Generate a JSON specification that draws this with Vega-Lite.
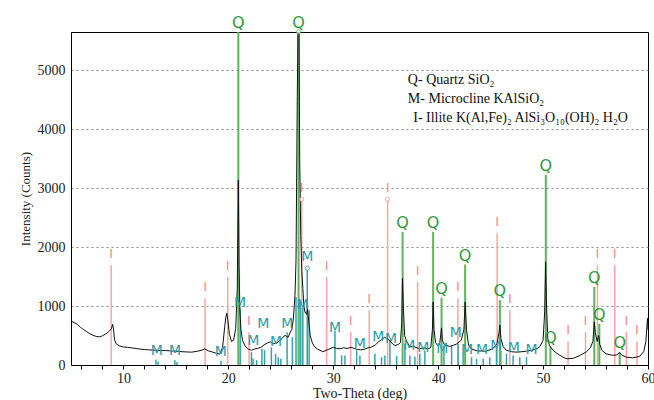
{
  "$schema": "https://vega.github.io/schema/vega-lite/v6.json",
  "width": 577,
  "height": 333,
  "autosize": {"type": "none"},
  "padding": {"left": 71, "top": 32, "right": 6, "bottom": 35},
  "background": "white",
  "config": {
    "view": {"stroke": "#000", "strokeWidth": 1},
    "axis": {"labelFont": "Liberation Serif", "titleFont": "Liberation Serif", "labelColor": "#222", "titleColor": "#222", "domainColor": "#000", "tickColor": "#000"}
  },
  "datasets": {
    "curve": [
      {"t":5.0,"h":745},{"t":5.3,"h":720},{"t":5.6,"h":690},{"t":5.9,"h":640},{"t":6.2,"h":600},{"t":6.5,"h":565},{"t":6.8,"h":530},{"t":7.1,"h":505},{"t":7.4,"h":485},{"t":7.7,"h":478},{"t":8.0,"h":495},{"t":8.3,"h":525},{"t":8.6,"h":565},{"t":8.85,"h":615},{"t":8.97,"h":690},{"t":9.05,"h":610},{"t":9.15,"h":430},{"t":9.3,"h":360},{"t":9.6,"h":325},{"t":10.0,"h":305},{"t":10.4,"h":300},{"t":10.8,"h":290},{"t":11.2,"h":280},{"t":11.6,"h":270},{"t":12.0,"h":262},{"t":12.4,"h":258},{"t":12.8,"h":252},{"t":13.2,"h":250},{"t":13.6,"h":246},{"t":14.0,"h":245},{"t":14.4,"h":240},{"t":14.8,"h":236},{"t":15.2,"h":232},{"t":15.6,"h":226},{"t":16.0,"h":222},{"t":16.5,"h":218},{"t":17.0,"h":232},{"t":17.4,"h":248},{"t":17.75,"h":272},{"t":18.1,"h":240},{"t":18.5,"h":218},{"t":18.9,"h":196},{"t":19.2,"h":185},{"t":19.45,"h":300},{"t":19.6,"h":560},{"t":19.75,"h":800},{"t":19.85,"h":880},{"t":19.95,"h":760},{"t":20.1,"h":520},{"t":20.3,"h":400},{"t":20.5,"h":420},{"t":20.7,"h":620},{"t":20.85,"h":1300},{"t":20.95,"h":3140},{"t":21.02,"h":1700},{"t":21.1,"h":900},{"t":21.2,"h":600},{"t":21.35,"h":420},{"t":21.6,"h":320},{"t":21.9,"h":270},{"t":22.2,"h":250},{"t":22.5,"h":272},{"t":22.8,"h":282},{"t":23.1,"h":300},{"t":23.4,"h":340},{"t":23.7,"h":372},{"t":24.0,"h":392},{"t":24.3,"h":360},{"t":24.6,"h":372},{"t":24.9,"h":410},{"t":25.2,"h":470},{"t":25.4,"h":502},{"t":25.7,"h":470},{"t":25.9,"h":560},{"t":26.05,"h":600},{"t":26.2,"h":790},{"t":26.35,"h":1180},{"t":26.45,"h":1780},{"t":26.57,"h":4550},{"t":26.65,"h":5900},{"t":26.73,"h":5900},{"t":26.8,"h":3500},{"t":26.9,"h":2200},{"t":27.0,"h":1600},{"t":27.1,"h":1300},{"t":27.2,"h":1000},{"t":27.3,"h":900},{"t":27.45,"h":860},{"t":27.55,"h":950},{"t":27.65,"h":750},{"t":27.8,"h":500},{"t":28.0,"h":380},{"t":28.2,"h":310},{"t":28.5,"h":270},{"t":29.0,"h":225},{"t":29.5,"h":262},{"t":30.0,"h":300},{"t":30.3,"h":282},{"t":30.6,"h":275},{"t":31.0,"h":292},{"t":31.3,"h":280},{"t":31.7,"h":300},{"t":32.0,"h":282},{"t":32.3,"h":262},{"t":32.6,"h":258},{"t":33.0,"h":270},{"t":33.3,"h":290},{"t":33.6,"h":302},{"t":34.0,"h":340},{"t":34.3,"h":390},{"t":34.6,"h":432},{"t":34.9,"h":470},{"t":35.2,"h":440},{"t":35.4,"h":410},{"t":35.7,"h":350},{"t":35.9,"h":330},{"t":36.2,"h":350},{"t":36.4,"h":380},{"t":36.52,"h":700},{"t":36.6,"h":1470},{"t":36.7,"h":900},{"t":36.8,"h":500},{"t":37.0,"h":400},{"t":37.3,"h":310},{"t":37.7,"h":312},{"t":38.2,"h":275},{"t":38.7,"h":292},{"t":39.0,"h":270},{"t":39.3,"h":300},{"t":39.45,"h":600},{"t":39.52,"h":1070},{"t":39.6,"h":600},{"t":39.75,"h":380},{"t":39.95,"h":330},{"t":40.15,"h":380},{"t":40.25,"h":520},{"t":40.32,"h":630},{"t":40.4,"h":420},{"t":40.6,"h":340},{"t":41.1,"h":315},{"t":41.7,"h":350},{"t":42.2,"h":420},{"t":42.45,"h":600},{"t":42.57,"h":1070},{"t":42.7,"h":600},{"t":42.9,"h":330},{"t":43.2,"h":270},{"t":43.7,"h":240},{"t":44.2,"h":235},{"t":44.6,"h":236},{"t":45.2,"h":275},{"t":45.6,"h":360},{"t":45.8,"h":550},{"t":45.88,"h":680},{"t":45.98,"h":450},{"t":46.2,"h":310},{"t":46.5,"h":250},{"t":47.0,"h":225},{"t":47.5,"h":218},{"t":48.0,"h":226},{"t":48.4,"h":235},{"t":48.9,"h":250},{"t":49.4,"h":275},{"t":49.7,"h":315},{"t":50.0,"h":420},{"t":50.15,"h":900},{"t":50.24,"h":1750},{"t":50.33,"h":1000},{"t":50.45,"h":450},{"t":50.6,"h":330},{"t":50.95,"h":250},{"t":51.3,"h":200},{"t":51.6,"h":165},{"t":52.0,"h":122},{"t":52.3,"h":105},{"t":52.9,"h":115},{"t":53.5,"h":160},{"t":54.1,"h":220},{"t":54.5,"h":290},{"t":54.75,"h":400},{"t":54.88,"h":730},{"t":54.98,"h":550},{"t":55.15,"h":400},{"t":55.3,"h":500},{"t":55.4,"h":350},{"t":55.6,"h":250},{"t":56.0,"h":190},{"t":56.6,"h":165},{"t":57.0,"h":170},{"t":57.3,"h":210},{"t":57.5,"h":170},{"t":57.9,"h":135},{"t":58.5,"h":122},{"t":59.2,"h":145},{"t":59.6,"h":230},{"t":59.8,"h":400},{"t":59.95,"h":790},{"t":60.0,"h":600}
    ],
    "illite": [
      {"t":8.83,"h":1692},{"t":17.78,"h":1130},{"t":19.94,"h":1493},{"t":21.97,"h":557},{"t":26.99,"h":2810},{"t":29.37,"h":1493},{"t":31.66,"h":557},{"t":33.43,"h":927},{"t":35.18,"h":2810},{"t":38.04,"h":1408},{"t":41.88,"h":1130},{"t":45.62,"h":2235},{"t":46.83,"h":927},{"t":52.38,"h":400},{"t":54.04,"h":557},{"t":55.18,"h":1692},{"t":56.83,"h":1692},{"t":57.94,"h":557},{"t":58.95,"h":400}
    ],
    "quartz": [
      {"t":20.95,"h":5650},{"t":26.69,"h":5650},{"t":36.61,"h":2258},{"t":39.52,"h":2258},{"t":40.32,"h":1143},{"t":42.57,"h":1704},{"t":45.88,"h":1100},{"t":50.26,"h":3222},{"t":50.7,"h":303},{"t":54.88,"h":1323},{"t":55.36,"h":700},{"t":57.3,"h":218}
    ],
    "microSticks": [
      {"t":13.1,"h":90},{"t":13.3,"h":60},{"t":14.9,"h":80},{"t":15.1,"h":50},{"t":19.3,"h":70},{"t":21.13,"h":960},{"t":22.2,"h":218},{"t":22.35,"h":110},{"t":22.7,"h":80},{"t":23.2,"h":275},{"t":23.45,"h":250},{"t":24.1,"h":300},{"t":24.5,"h":190},{"t":24.75,"h":130},{"t":25.0,"h":105},{"t":25.6,"h":557},{"t":26.1,"h":470},{"t":26.45,"h":1150},{"t":26.85,"h":1070},{"t":27.1,"h":980},{"t":27.52,"h":1641},{"t":27.7,"h":930},{"t":30.16,"h":587},{"t":30.8,"h":162},{"t":31.11,"h":160},{"t":32.23,"h":247},{"t":32.54,"h":162},{"t":33.97,"h":190},{"t":34.6,"h":133},{"t":34.92,"h":162},{"t":35.4,"h":416},{"t":36.04,"h":150},{"t":36.83,"h":360},{"t":37.3,"h":162},{"t":37.78,"h":140},{"t":38.25,"h":190},{"t":38.73,"h":247},{"t":40.55,"h":332},{"t":41.28,"h":332},{"t":41.9,"h":360},{"t":42.38,"h":200},{"t":43.18,"h":133},{"t":43.66,"h":105},{"t":44.29,"h":105},{"t":44.92,"h":133},{"t":45.56,"h":303},{"t":45.97,"h":247},{"t":46.51,"h":190},{"t":47.14,"h":162},{"t":47.78,"h":133},{"t":48.42,"h":133}
    ],
    "microLabels": [
      {"t":13.18,"h":161},{"t":14.92,"h":161},{"t":19.28,"h":144},{"t":21.11,"h":965},{"t":22.38,"h":314},{"t":23.33,"h":608},{"t":24.54,"h":297},{"t":25.62,"h":603},{"t":27.09,"h":926},{"t":27.52,"h":1742},{"t":30.16,"h":535},{"t":32.54,"h":263},{"t":34.28,"h":382},{"t":35.5,"h":348},{"t":37.25,"h":246},{"t":38.57,"h":201},{"t":40.4,"h":195},{"t":41.68,"h":450},{"t":42.76,"h":178},{"t":44.17,"h":170},{"t":45.54,"h":238},{"t":47.2,"h":212},{"t":48.9,"h":178}
    ],
    "markers": [
      {"t":26.99,"h":2810,"phase":"I"},{"t":35.18,"h":2810,"phase":"I"},{"t":27.52,"h":1641,"phase":"M"},{"t":26.69,"h":5650,"phase":"Q"}
    ],
    "legend": [
      {"t":37.11,"h":4838,"text":"Q- Quartz SiO₂"},
      {"t":37.11,"h":4515,"text":"M- Microcline KAlSiO₂"},
      {"t":37.62,"h":4192,"text":"I-  Illite K(Al,Fe)₂ AlSi₃O₁₀(OH)₂ H₂O"}
    ]
  },
  "encoding": {
    "x": {
      "field": "t", "type": "quantitative",
      "scale": {"domain": [5, 60], "nice": false, "zero": false},
      "axis": {
        "title": "Two-Theta (deg)", "titleFontSize": 14, "titleFontWeight": "normal", "titlePadding": 1,
        "values": [6,8,10,12,14,16,18,20,22,24,26,28,30,32,34,36,38,40,42,44,46,48,50,52,54,56,58,60],
        "labelExpr": "datum.value % 10 === 0 ? datum.label : ''",
        "labelFontSize": 14, "labelPadding": 2, "tickSize": 4, "grid": false, "labelFlush": false
      }
    },
    "y": {
      "field": "h", "type": "quantitative",
      "scale": {"domain": [0, 5650], "nice": false},
      "axis": {
        "title": "Intensity (Counts)", "titleFontSize": 13, "titleFontWeight": "normal", "titlePadding": 5,
        "values": [0,1000,2000,3000,4000,5000], "format": "d",
        "labelFontSize": 14, "labelPadding": 6, "ticks": false,
        "grid": true, "gridColor": "#888", "gridDash": [2, 3], "gridWidth": 1
      }
    }
  },
  "layer": [
    {
      "data": {"name": "illite"},
      "mark": {"type": "rule", "color": "#ffa3a3", "strokeWidth": 1.5},
      "encoding": {"y2": {"datum": 0}}
    },
    {
      "data": {"name": "illite"},
      "mark": {"type": "text", "text": "I", "font": "DejaVu Sans", "fontSize": 13, "color": "#ff8a8a", "baseline": "alphabetic", "dy": -7}
    },
    {
      "data": {"name": "microSticks"},
      "mark": {"type": "rule", "color": "#35a2ab", "strokeWidth": 1.5},
      "encoding": {"y2": {"datum": 0}}
    },
    {
      "data": {"name": "quartz"},
      "mark": {"type": "rule", "color": "#5cb45c", "strokeWidth": 2},
      "encoding": {"y2": {"datum": 0}}
    },
    {
      "data": {"name": "curve"},
      "mark": {"type": "line", "color": "#111", "strokeWidth": 1, "clip": true, "interpolate": "linear"}
    },
    {
      "data": {"name": "microLabels"},
      "mark": {"type": "text", "text": "M", "font": "DejaVu Sans", "fontSize": 14, "color": "#2a9ca5", "baseline": "alphabetic", "dy": -1}
    },
    {
      "data": {"name": "quartz"},
      "mark": {"type": "text", "text": "Q", "font": "DejaVu Sans", "fontSize": 16, "color": "#2f9a3a", "baseline": "alphabetic", "dy": -4}
    },
    {
      "data": {"name": "markers"},
      "mark": {"type": "point", "shape": "circle", "size": 18, "filled": false, "fill": "white", "strokeWidth": 1},
      "encoding": {
        "color": {"field": "phase", "type": "nominal", "scale": {"domain": ["I", "M", "Q"], "range": ["#ff8a8a", "#2a9ca5", "#4caf50"]}, "legend": null}
      }
    },
    {
      "data": {"name": "legend"},
      "mark": {"type": "text", "font": "Liberation Serif", "fontSize": 14, "color": "#111", "align": "left", "baseline": "middle"},
      "encoding": {"text": {"field": "text"}}
    }
  ]
}
